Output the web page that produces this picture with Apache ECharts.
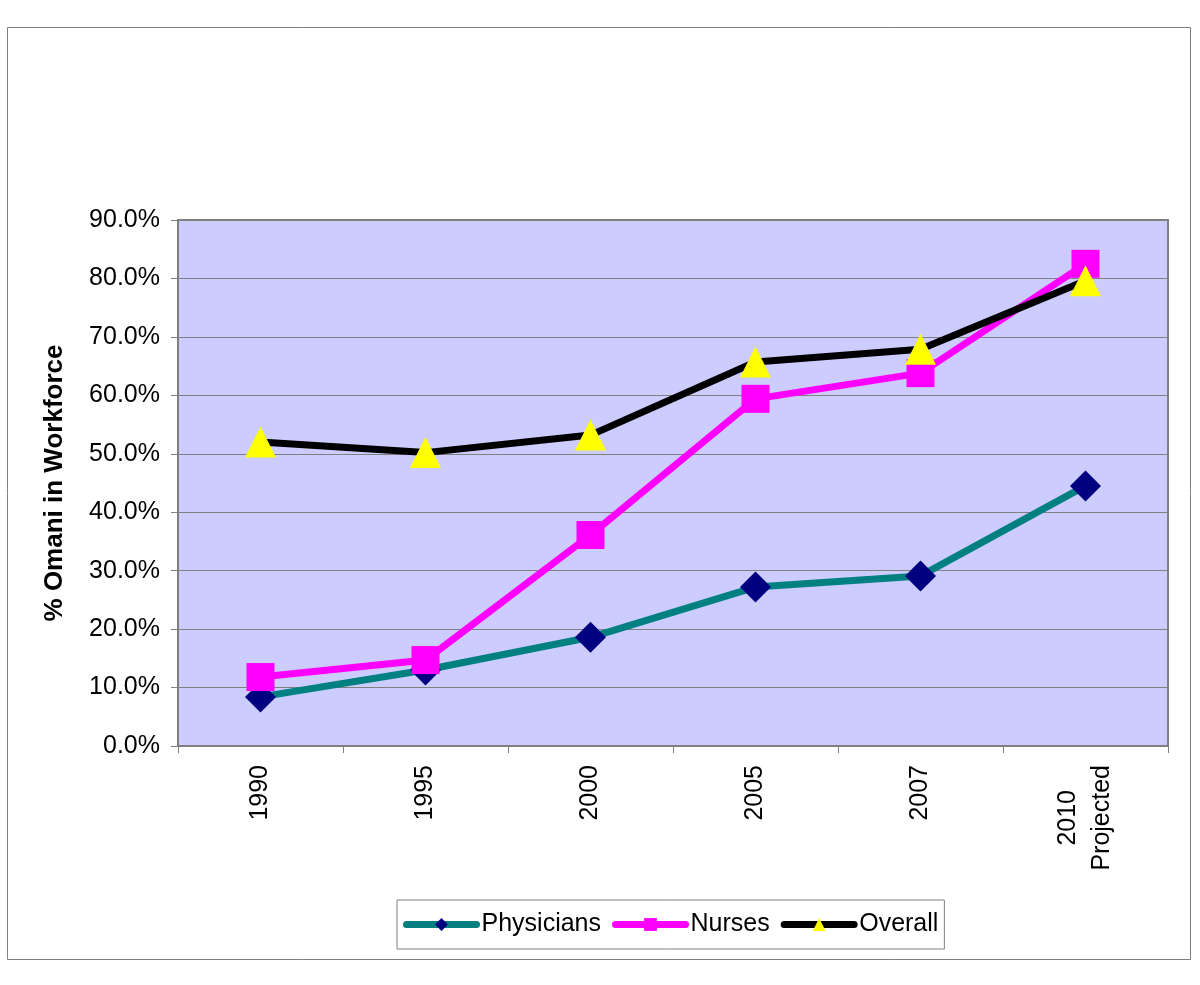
<!DOCTYPE html>
<html>
<head>
<meta charset="utf-8">
<script src="https://cdn.jsdelivr.net/npm/echarts@6/dist/echarts.min.js"></script>
<style>
  html, body { margin: 0; padding: 0; background: #ffffff; }
  #chart { width: 1200px; height: 985px; }
</style>
</head>
<body>
<div id="chart"></div>
<script>
let years = ['1990', '1995', '2000', '2005', '2007', '2010\nProjected']
let physicians = [8.4, 13.0, 18.6, 27.2, 29.1, 44.5]
let nurses = [11.8, 14.7, 36.1, 59.4, 63.8, 82.5]
let overall = [52.0, 50.2, 53.2, 65.7, 67.9, 79.6]

let font = 'Liberation Sans, Arial, sans-serif'
let mychart = echarts.init(document.getElementById('chart'))

let mkSerie = (name, data, lineColor, symbol, symColor, size) => {
    return {
        name: name,
        type: 'line',
        data: data,
        symbol: symbol,
        symbolSize: size,
        showSymbol: true,
        lineStyle: { color: lineColor, width: 7 },
        itemStyle: { color: symColor, borderWidth: 0 },
        emphasis: { disabled: true }
    }
}

let options = {
    animation: false,
    backgroundColor: '#ffffff',
    graphic: [
        {
            type: 'rect',
            shape: { x: 7.5, y: 27.5, width: 1183, height: 932 },
            style: { fill: 'none', stroke: '#808080', lineWidth: 1 },
            z: -10
        }
    ],
    grid: {
        left: 178, right: 32, top: 220, bottom: 239,
        show: true,
        backgroundColor: '#CCCCFF',
        borderColor: '#808080',
        borderWidth: 2
    },
    legend: {
        left: 397, top: 900,
        padding: [12, 6, 12, 6],
        itemWidth: 70, itemHeight: 16,
        itemGap: 11,
        borderColor: '#808080',
        borderWidth: 1,
        lineStyle: { width: 7, cap: 'round' },
        textStyle: { fontFamily: font, fontSize: 25, color: '#000', padding: [0, 0, 0, 0] },
        data: ['Physicians', 'Nurses', 'Overall']
    },
    xAxis: {
        type: 'category',
        data: years,
        boundaryGap: true,
        axisLine: { show: true, lineStyle: { color: '#808080', width: 2 } },
        axisTick: { show: true, length: 7, lineStyle: { color: '#808080' } },
        axisLabel: {
            rotate: 90,
            margin: 19,
            interval: 0,
            color: '#000',
            fontFamily: font,
            fontSize: 25,
            lineHeight: 34,
            formatter: v => v.split('\n').map(s => '{c|' + s + '}').join('\n'),
            rich: { c: { align: 'center', fontFamily: font, fontSize: 25, lineHeight: 34, color: '#000' } }
        },
        splitLine: { show: false }
    },
    yAxis: {
        type: 'value',
        min: 0, max: 90, interval: 10,
        name: '% Omani in Workforce',
        nameLocation: 'middle',
        nameGap: 110,
        nameRotate: 90,
        nameTextStyle: { fontFamily: font, fontSize: 26, fontWeight: 'bold', color: '#000' },
        axisLine: { show: true, lineStyle: { color: '#808080', width: 2 } },
        axisTick: { show: true, length: 7, lineStyle: { color: '#808080' } },
        axisLabel: {
            margin: 18,
            color: '#000',
            fontFamily: font,
            fontSize: 25,
            formatter: v => v.toFixed(1) + '%'
        },
        splitLine: { show: true, lineStyle: { color: '#808080', width: 1 } }
    },
    series: [
        mkSerie('Physicians', physicians, '#008080', 'diamond', '#000080', 31),
        mkSerie('Nurses', nurses, '#FF00FF', 'rect', '#FF00FF', 28),
        mkSerie('Overall', overall, '#000000', 'triangle', '#FFFF00', 31)
    ]
}
mychart.setOption(options)
</script>
</body>
</html>
